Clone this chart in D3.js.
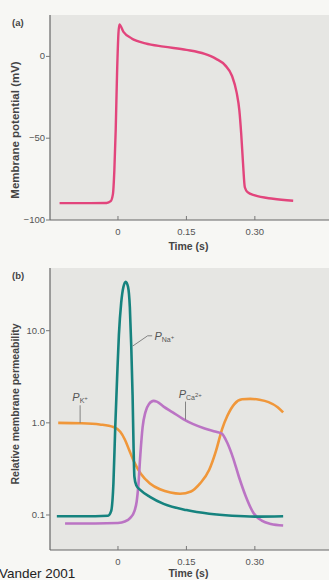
<!DOCTYPE html>
<html><head><meta charset="utf-8">
<script src="https://cdn.jsdelivr.net/npm/d3@7"></script>
<style>
body{margin:0;background:#f7f7f4;}
svg{display:block;}
text{font-family:"Liberation Sans",Arial,sans-serif;}
</style></head>
<body><svg id="c" width="329" height="580"></svg>
<script>
// Panel (a): membrane potential (mV) vs time (s)
const timeA = [-0.128,-0.06,-0.025,-0.016,-0.011,-0.008,-0.005,-0.002,0.001,0.003,0.012,0.03,0.06,0.1,0.15,0.19,0.215,0.235,0.25,0.26,0.266,0.27,0.274,0.278,0.284,0.3,0.34,0.384];
const vm    = [-89.7,-89.7,-89.6,-88.5,-84,-70,-45,-10,14,19.5,15,11,8,6,4,1.5,-1.5,-5.5,-12,-22,-33,-47,-65,-80,-83,-85,-87,-88.2];
const ticksX = [0,0.15,0.30];
const ticksXLabels = ["0","0.15","0.30"];
const ticksA_y = [0,-50,-100];
const ticksA_yLabels = ["0","\u221250","\u2212100"];

// Panel (b): relative membrane permeability (log scale)
const timeNa = [-0.134,-0.05,-0.022,-0.015,-0.01,-0.006,-0.002,0.002,0.007,0.012,0.017,0.022,0.026,0.029,0.032,0.034,0.036,0.04,0.05,0.07,0.1,0.15,0.2,0.25,0.3,0.362];
const pNa    = [0.097,0.097,0.098,0.11,0.22,0.9,3,9,20,30,34,30,18,7,2,0.6,0.26,0.21,0.185,0.157,0.132,0.113,0.103,0.098,0.096,0.097];
const timeK  = [-0.131,-0.08,-0.04,-0.01,0.005,0.015,0.025,0.035,0.05,0.07,0.092,0.115,0.136,0.16,0.18,0.2,0.215,0.228,0.24,0.255,0.272,0.29,0.31,0.33,0.35,0.362];
const pK     = [1.0,0.99,0.96,0.9,0.8,0.66,0.5,0.38,0.28,0.22,0.19,0.175,0.17,0.18,0.22,0.31,0.5,0.85,1.2,1.6,1.8,1.82,1.78,1.68,1.48,1.3];
const timeCa = [-0.116,-0.05,0.0,0.015,0.027,0.036,0.041,0.045,0.049,0.054,0.06,0.068,0.078,0.085,0.1,0.12,0.143,0.165,0.19,0.215,0.228,0.24,0.252,0.265,0.28,0.297,0.315,0.335,0.362];
const pCa    = [0.081,0.081,0.082,0.085,0.093,0.11,0.14,0.22,0.45,0.9,1.3,1.6,1.73,1.7,1.5,1.3,1.1,0.97,0.87,0.8,0.76,0.6,0.42,0.26,0.16,0.105,0.087,0.08,0.077];
const ticksB_y = [10,1,0.1];
const ticksB_yLabels = ["10.0","1.0","0.1"];

const svg = d3.select("#c");
const colText = "#555";
const xRange = [50,329];
const xDomain = [-0.149,0.4625];

function panelFrame(o){
  const {top,bottom,y,yTicks,yLabels,letter,ylabel,ylabelSize,ylabelCenter,tickOff,titleOff}=o;
  svg.append("rect").attr("x",50).attr("y",top).attr("width",279).attr("height",bottom-top).attr("fill","#e6e6e3");
  const x = d3.scaleLinear().domain(xDomain).range(xRange);
  svg.append("line").attr("x1",50).attr("x2",50).attr("y1",top).attr("y2",bottom).attr("stroke","#666").attr("stroke-width",1.2);
  svg.append("line").attr("x1",50).attr("x2",329).attr("y1",bottom).attr("y2",bottom).attr("stroke","#666").attr("stroke-width",1.2);
  ticksX.forEach((t,i)=>{
    svg.append("line").attr("x1",x(t)).attr("x2",x(t)).attr("y1",bottom).attr("y2",bottom-4).attr("stroke","#777");
    svg.append("text").attr("x",x(t)).attr("y",bottom+tickOff).attr("text-anchor","middle").attr("font-size",9.5).attr("fill",colText).text(ticksXLabels[i]);
  });
  svg.append("text").attr("x",x(0.15)+2).attr("y",bottom+titleOff).attr("text-anchor","middle").attr("font-size",10.5).attr("font-weight","bold").attr("fill","#444").text("Time (s)");
  yTicks.forEach((v,i)=>{
    svg.append("line").attr("x1",46).attr("x2",50).attr("y1",y(v)).attr("y2",y(v)).attr("stroke","#777");
    svg.append("text").attr("x",45).attr("y",y(v)+3).attr("text-anchor","end").attr("font-size",9.5).attr("fill",colText).text(yLabels[i]);
  });
  svg.append("text").attr("x",12).attr("y",top+11).attr("font-size",9.5).attr("font-weight","bold").attr("fill","#444").text(letter);
  svg.append("text").attr("transform",`translate(19,${ylabelCenter}) rotate(-90)`).attr("text-anchor","middle").attr("font-size",ylabelSize).attr("font-weight","bold").attr("fill","#444").text(ylabel);
  return x;
}

// Panel a
const yA = d3.scaleLinear().domain([-100,25.3]).range([220,15]);
const xA = panelFrame({top:15,bottom:220,y:yA,yTicks:ticksA_y,yLabels:ticksA_yLabels,letter:"(a)",ylabel:"Membrane potential (mV)",ylabelSize:11.5,ylabelCenter:130,tickOff:15,titleOff:30});
const lineA = d3.line().x((d,i)=>xA(timeA[i])).y(d=>yA(d)).curve(d3.curveMonotoneX);
svg.append("path").attr("d",lineA(vm)).attr("fill","none").attr("stroke","#e2457c").attr("stroke-width",2.4);

// Panel b
const yB = d3.scaleLog().domain([0.0417,47.9]).range([550,268]);
const xB = panelFrame({top:268,bottom:550,y:yB,yTicks:ticksB_y,yLabels:ticksB_yLabels,letter:"(b)",ylabel:"Relative membrane permeability",ylabelSize:10.5,ylabelCenter:404,tickOff:15,titleOff:27});
function drawB(ts,vs,color){
  const l = d3.line().x((d,i)=>xB(ts[i])).y(d=>yB(d)).curve(d3.curveMonotoneX);
  svg.append("path").attr("d",l(vs)).attr("fill","none").attr("stroke",color).attr("stroke-width",2.6);
}
drawB(timeK,pK,"#f0973a");
drawB(timeCa,pCa,"#bb74c4");
drawB(timeNa,pNa,"#16837f");

function plabel(tx,vy,sub,sup){
  const t = svg.append("text").attr("x",xB(tx)).attr("y",yB(vy)).attr("font-size",11).attr("fill","#555");
  t.append("tspan").attr("font-style","italic").text("P");
  t.append("tspan").attr("font-size",7).attr("dy",2).text(sub);
  t.append("tspan").attr("font-size",6).attr("dy",-3).text(sup);
}
svg.append("path").attr("d",`M${xB(0.032)},${yB(6.8)} L${xB(0.065)},${yB(8.8)} L${xB(0.075)},${yB(8.8)}`).attr("fill","none").attr("stroke","#777").attr("stroke-width",0.9);
plabel(0.08,8.0,"Na","+");
svg.append("line").attr("x1",xB(-0.083)).attr("x2",xB(-0.083)).attr("y1",yB(1.0)).attr("y2",yB(1.55)).attr("stroke","#777").attr("stroke-width",0.9);
plabel(-0.1,1.72,"K","+");
svg.append("line").attr("x1",xB(0.148)).attr("x2",xB(0.148)).attr("y1",yB(1.08)).attr("y2",yB(1.7)).attr("stroke","#777").attr("stroke-width",0.9);
plabel(0.133,1.85,"Ca","2+");

svg.append("text").attr("x",-1).attr("y",578).attr("font-family","DejaVu Sans").attr("font-size",13.5).attr("fill","#222").text("Vander 2001");
</script></body></html>
